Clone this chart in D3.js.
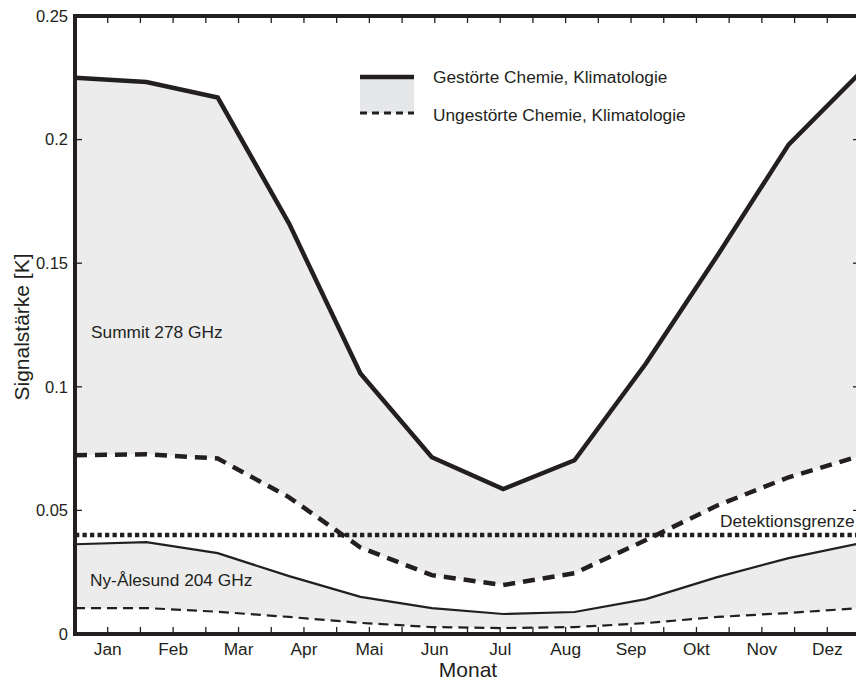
<!DOCTYPE html>
<html>
<head>
<meta charset="utf-8">
<script src="https://cdn.jsdelivr.net/npm/d3@7"></script>
<style>
  body { margin: 0; background: #fff; }
  svg text { font-family: "Liberation Sans", Arial, sans-serif; fill: #231f20; }
</style>
</head>
<body>
<svg id="chart"></svg>
<script>
const months = ["Jan", "Feb", "Mar", "Apr", "Mai", "Jun", "Jul", "Aug", "Sep", "Okt", "Nov", "Dez"];
const summitDisturbed   = [0.225, 0.2233, 0.217, 0.166, 0.1054, 0.0715, 0.0586, 0.0703, 0.1094, 0.153, 0.198, 0.227];
const summitUndisturbed = [0.0723, 0.0727, 0.071, 0.0553, 0.035, 0.0238, 0.0198, 0.0246, 0.038, 0.052, 0.0634, 0.072];
const nyDisturbed       = [0.0363, 0.0372, 0.0327, 0.0234, 0.015, 0.0105, 0.0081, 0.0089, 0.0141, 0.023, 0.0307, 0.0367];
const nyUndisturbed     = [0.0105, 0.0105, 0.009, 0.0069, 0.0045, 0.0028, 0.0024, 0.0028, 0.0044, 0.0069, 0.0085, 0.0105];
const detectionLimit = 0.04;
const yTicks = [0, 0.05, 0.1, 0.15, 0.2, 0.25];
const yTickLabels = ["0", "0.05", "0.1", "0.15", "0.2", "0.25"];

const width = 856, height = 681;
const margin = {top: 16, right: -4, bottom: 47, left: 75};
const ink = "#231f20", shade = "#ececec";

const svg = d3.select("#chart").attr("width", width).attr("height", height);

const x = d3.scaleLinear().domain([0, months.length - 1]).range([margin.left, width - margin.right]);
const xMonth = d3.scaleBand().domain(months).range([margin.left, width - margin.right]);
const xMinor = d3.scaleLinear().domain([0, 24]).range([margin.left, width - margin.right]);
const y = d3.scaleLinear().domain([0, 0.25]).range([height - margin.bottom, margin.top]);

const plot = svg.append("g");

// shaded bands between disturbed and undisturbed
const band = (hi, lo) => d3.area()
  .x((d, i) => x(i))
  .y0((d, i) => y(lo[i]))
  .y1(d => y(d))(hi);

plot.append("path").attr("d", band(summitDisturbed, summitUndisturbed)).attr("fill", shade);
plot.append("path").attr("d", band(nyDisturbed, nyUndisturbed)).attr("fill", shade);

const line = d3.line().x((d, i) => x(i)).y(d => y(d));

plot.append("path").attr("d", line(summitDisturbed))
  .attr("fill", "none").attr("stroke", ink).attr("stroke-width", 4.5);
plot.append("path").attr("d", line(summitUndisturbed))
  .attr("fill", "none").attr("stroke", ink).attr("stroke-width", 4.5).attr("stroke-dasharray", "12,8");
plot.append("path").attr("d", line(nyDisturbed))
  .attr("fill", "none").attr("stroke", ink).attr("stroke-width", 2.2);
plot.append("path").attr("d", line(nyUndisturbed))
  .attr("fill", "none").attr("stroke", ink).attr("stroke-width", 2.2).attr("stroke-dasharray", "10,6");

// detection limit
plot.append("line")
  .attr("x1", margin.left).attr("x2", width - margin.right)
  .attr("y1", y(detectionLimit)).attr("y2", y(detectionLimit))
  .attr("stroke", ink).attr("stroke-width", 4.5).attr("stroke-dasharray", "4.3,3.2");

plot.append("text").attr("x", 720).attr("y", y(detectionLimit) - 8)
  .attr("font-size", 17.3).text("Detektionsgrenze");

plot.append("text").attr("x", 91).attr("y", 338).attr("font-size", 17.3).text("Summit 278 GHz");
plot.append("text").attr("x", 90).attr("y", 586).attr("font-size", 17.3).text("Ny-Ålesund 204 GHz");

// legend
const lg = svg.append("g");
lg.append("rect").attr("x", 360).attr("y", 77).attr("width", 54).attr("height", 36).attr("fill", "#e6e7e8");
lg.append("line").attr("x1", 360).attr("x2", 414).attr("y1", 77).attr("y2", 77)
  .attr("stroke", ink).attr("stroke-width", 4.5);
lg.append("line").attr("x1", 360).attr("x2", 414).attr("y1", 113).attr("y2", 113)
  .attr("stroke", ink).attr("stroke-width", 3).attr("stroke-dasharray", "7,5");
lg.append("text").attr("x", 433).attr("y", 83).attr("font-size", 17.3).text("Gestörte Chemie, Klimatologie");
lg.append("text").attr("x", 433).attr("y", 121).attr("font-size", 17.3).text("Ungestörte Chemie, Klimatologie");

// frame
const x0 = margin.left, x1 = width - margin.right, y0 = y(0), y1 = y(0.25);
svg.append("rect").attr("x", x0).attr("y", y1).attr("width", x1 - x0).attr("height", y0 - y1)
  .attr("fill", "none").attr("stroke", ink).attr("stroke-width", 4);

// x ticks (inward, top and bottom)
const minor = d3.range(1, 24);
svg.append("g").selectAll("line").data(minor).join("line")
  .attr("x1", d => xMinor(d)).attr("x2", d => xMinor(d))
  .attr("y1", y0).attr("y2", y0 - 7).attr("stroke", ink).attr("stroke-width", 1.3);
svg.append("g").selectAll("line").data(minor).join("line")
  .attr("x1", d => xMinor(d)).attr("x2", d => xMinor(d))
  .attr("y1", y1).attr("y2", y1 + 7).attr("stroke", ink).attr("stroke-width", 1.3);

// y ticks (inward, left and right)
svg.append("g").selectAll("line").data(yTicks.slice(1, -1)).join("line")
  .attr("x1", x0).attr("x2", x0 + 7).attr("y1", d => y(d)).attr("y2", d => y(d))
  .attr("stroke", ink).attr("stroke-width", 1.3);
svg.append("g").selectAll("line").data(yTicks.slice(1, -1)).join("line")
  .attr("x1", x1).attr("x2", x1 - 7).attr("y1", d => y(d)).attr("y2", d => y(d))
  .attr("stroke", ink).attr("stroke-width", 1.3);

svg.append("g").selectAll("text").data(yTicks).join("text")
  .attr("x", x0 - 7).attr("y", d => y(d)).attr("dy", "0.35em")
  .attr("text-anchor", "end").attr("font-size", 16.5)
  .text((d, i) => yTickLabels[i]);

svg.append("g").selectAll("text").data(months).join("text")
  .attr("x", d => xMonth(d) + xMonth.bandwidth() / 2).attr("y", 655)
  .attr("text-anchor", "middle").attr("font-size", 17.3).text(d => d);

svg.append("text").attr("x", 468).attr("y", 677).attr("text-anchor", "middle")
  .attr("font-size", 21).text("Monat");

svg.append("text").attr("transform", `translate(29,327) rotate(-90)`)
  .attr("text-anchor", "middle").attr("font-size", 21).text("Signalstärke [K]");
</script>
</body>
</html>
